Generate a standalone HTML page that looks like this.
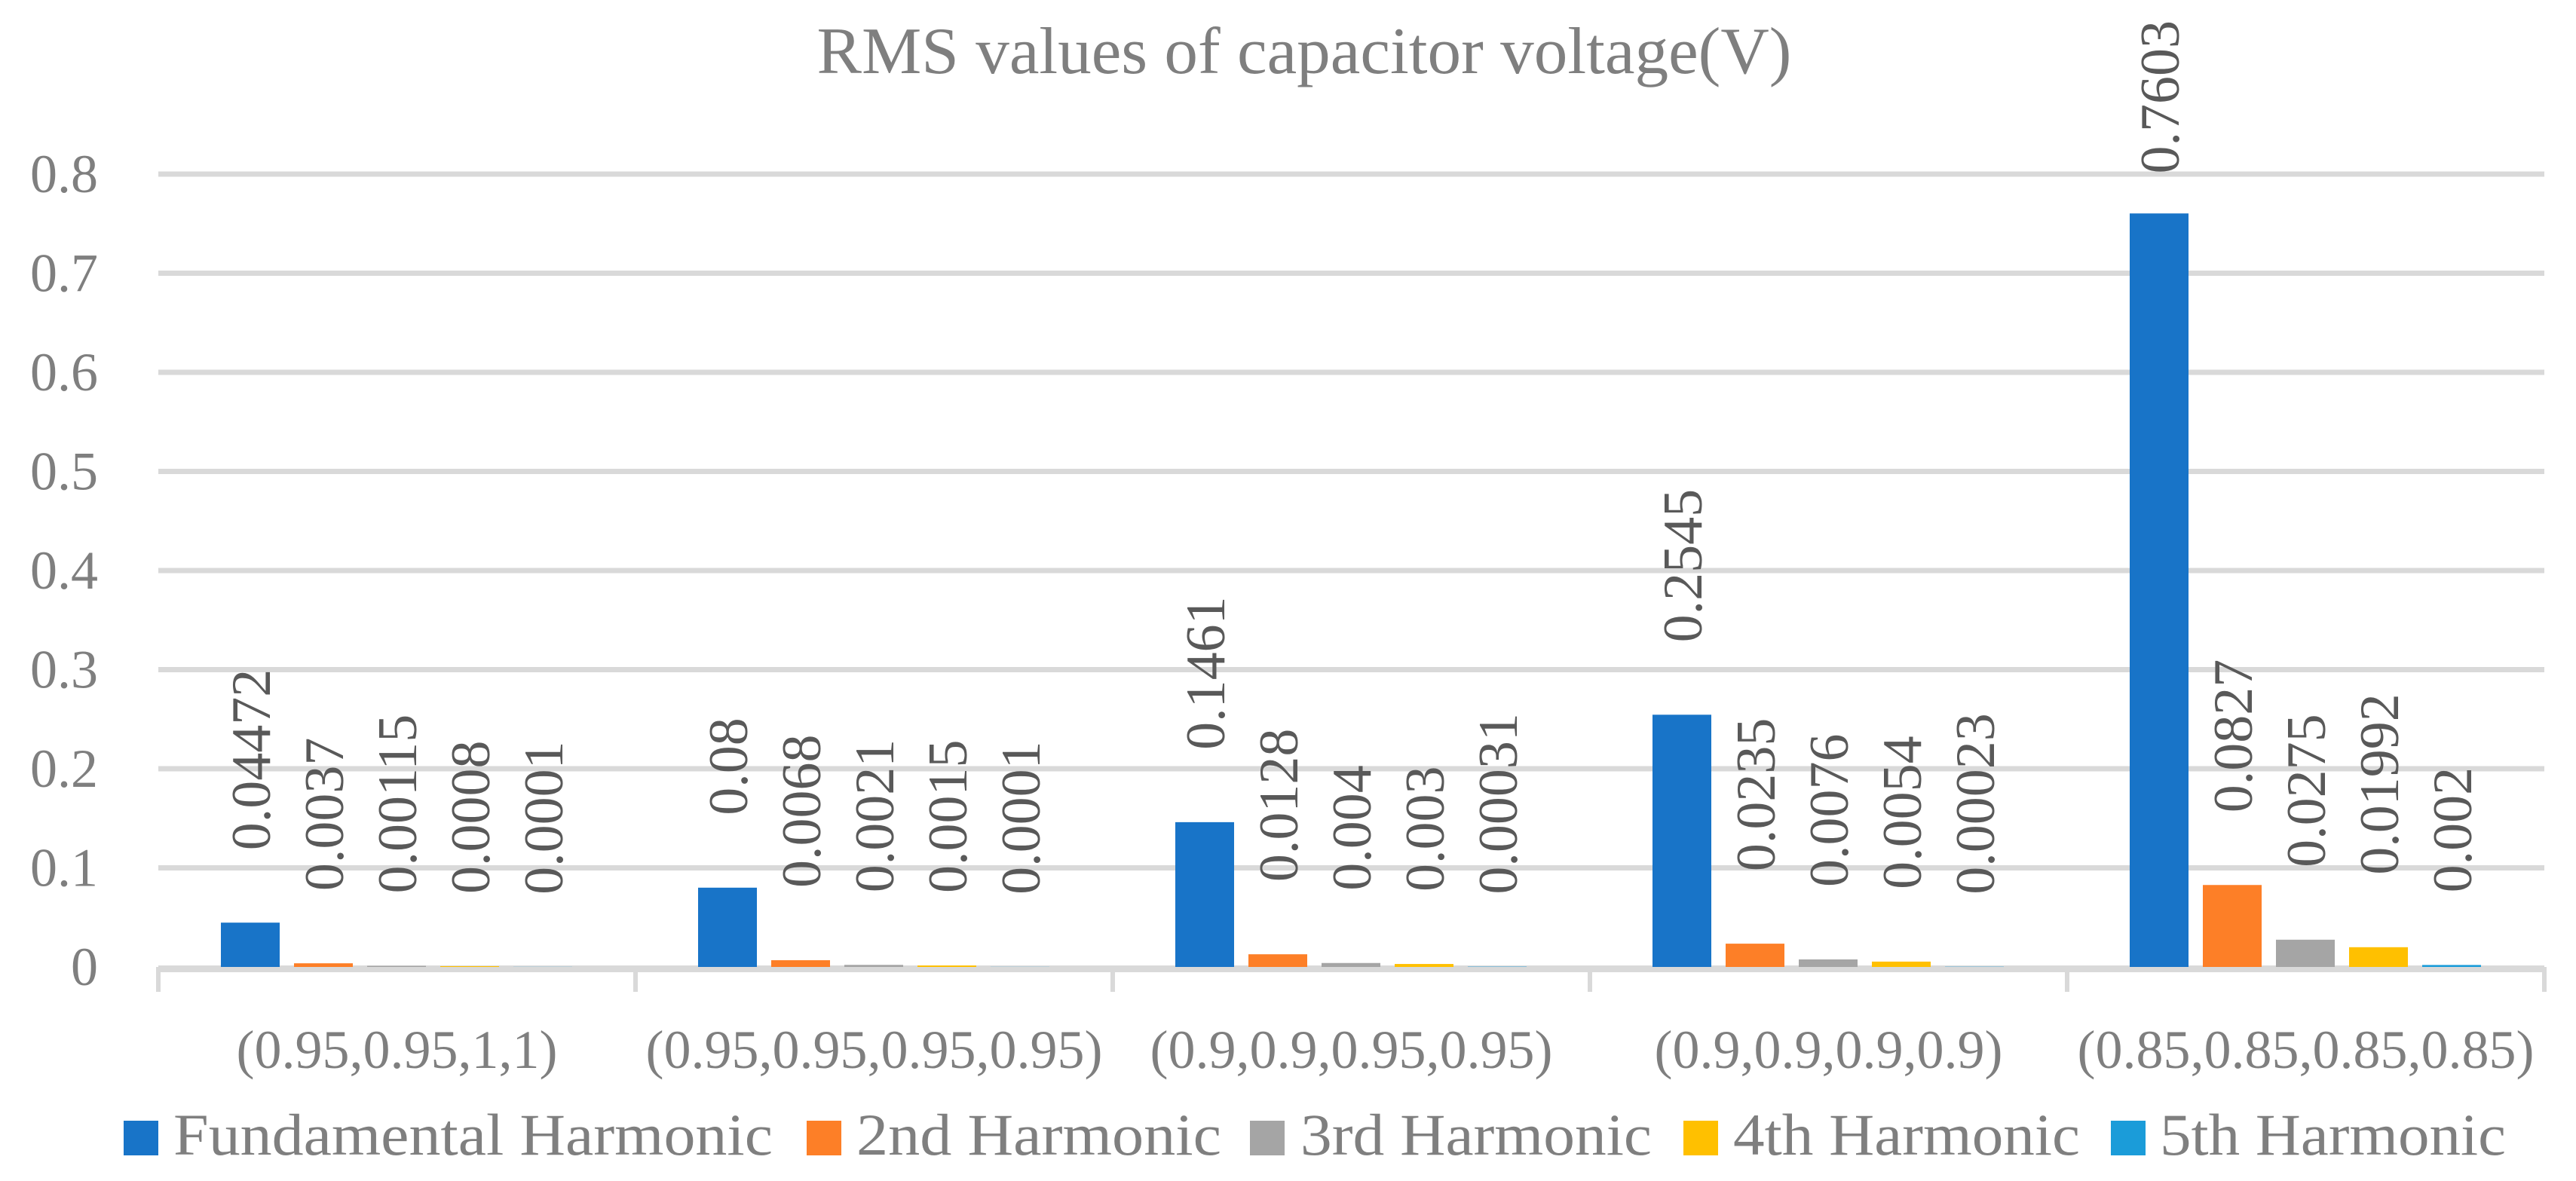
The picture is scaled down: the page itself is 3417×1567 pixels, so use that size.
<!DOCTYPE html>
<html><head><meta charset="utf-8"><style>
html,body{margin:0;padding:0;background:#fff;}
svg{display:block;}
text{font-family:"Liberation Serif",serif;}
</style></head><body>
<svg id="chart" width="3417" height="1567" viewBox="0 0 3417 1567" xmlns="http://www.w3.org/2000/svg">
<text x="1730" y="97" font-size="88" fill="#7f7f7f" text-anchor="middle" textLength="1293" lengthAdjust="spacingAndGlyphs">RMS values of capacitor voltage(V)</text>
<g id="grid"></g><g id="bars"></g><g id="labels"></g><g id="legend"></g>
</svg>
<script>
const categories = ["(0.95,0.95,1,1)","(0.95,0.95,0.95,0.95)","(0.9,0.9,0.95,0.95)","(0.9,0.9,0.9,0.9)","(0.85,0.85,0.85,0.85)"];
const seriesNames = ["Fundamental Harmonic","2nd Harmonic","3rd Harmonic","4th Harmonic","5th Harmonic"];
const fundamental = [0.04472,0.08,0.1461,0.2545,0.7603];
const second = [0.0037,0.0068,0.0128,0.0235,0.0827];
const third = [0.00115,0.0021,0.004,0.0076,0.0275];
const fourth = [0.0008,0.0015,0.003,0.0054,0.01992];
const fifth = [0.0001,0.0001,0.00031,0.00023,0.002];
const yTicks = [0,0.1,0.2,0.3,0.4,0.5,0.6,0.7,0.8];
const yTickLabels = ["0","0.1","0.2","0.3","0.4","0.5","0.6","0.7","0.8"];

const series = [fundamental,second,third,fourth,fifth];
const colors = ["#1874c8","#fd7f27","#a5a5a5","#ffc000","#1b9cd9"];
const NS = "http://www.w3.org/2000/svg";
const X0 = 210, X1 = 3375, Y0 = 1283, YTOP = 231;
const catW = (X1 - X0) / categories.length;
function y(v){ return Y0 - (v / 0.8) * (Y0 - YTOP); }
function barX(i,j){ return X0 + catW*i + 83 + 97*j; }
function mk(tag, attrs, parent){ const e=document.createElementNS(NS,tag); for(const k in attrs) e.setAttribute(k,attrs[k]); parent.appendChild(e); return e; }
const grid=document.getElementById('grid'), bars=document.getElementById('bars'), labels=document.getElementById('labels'), legend=document.getElementById('legend');

yTicks.forEach((t,i)=>{
  if(i>0){
    const l=mk('rect',{x:X0,y:y(t)-3.5,width:X1-X0,height:7,fill:'#d9d9d9'},grid);
    
    
  }
  const tx=mk('text',{x:130,y:y(t)+24,'font-size':72,fill:'#7f7f7f','text-anchor':'end'},grid);
  tx.textContent=yTickLabels[i];
  
  
});
const ax=mk('rect',{x:X0,y:Y0-2,width:X1-X0,height:9,fill:'#d9d9d9'},grid);


for(let i=0;i<=categories.length;i++){
  const tk=mk('rect',{x:X0+catW*i-3,y:Y0,width:6,height:33,fill:'#d9d9d9'},grid);
  
  
}
categories.forEach((c,i)=>{
  const t=mk('text',{x:X0+catW*i+catW/2,y:1417,'font-size':72,fill:'#7f7f7f','text-anchor':'middle'},grid);
  t.textContent=c;
  
  
});

series.forEach((s,j)=>{
  s.forEach((v,i)=>{
    const bx=barX(i,j), top=y(v);
    const r=mk('rect',{x:bx,y:top,width:78,height:Math.max(0,Y0-top),fill:colors[j]},bars);
    
    
    let bottom=top-96;
    const txt=String(v);
    const len=(txt.length-1)*37+18.5;
    if(bottom-len<27) bottom=27+len;
    const cx=bx+39+26;
    const t=mk('text',{x:cx,y:bottom,'font-size':74,fill:'#595959',transform:`rotate(-90 ${cx} ${bottom})`},labels);
    t.textContent=txt;
    
    
  });
});

const legSq=[164,1070,1658,2233,2800];
const legTxt=[[230,1025],[1136,1620],[1725,2191],[2299,2759],[2865,3324]];
seriesNames.forEach((n,j)=>{
  const g=mk('g',{},legend);
  
  
  mk('rect',{x:legSq[j],y:1487,width:46,height:46,fill:colors[j]},g);
  const t=mk('text',{x:legTxt[j][0],y:1532,'font-size':78,fill:'#7f7f7f',textLength:legTxt[j][1]-legTxt[j][0],lengthAdjust:'spacingAndGlyphs'},g);
  t.textContent=n;
});
</script>
</body></html>
